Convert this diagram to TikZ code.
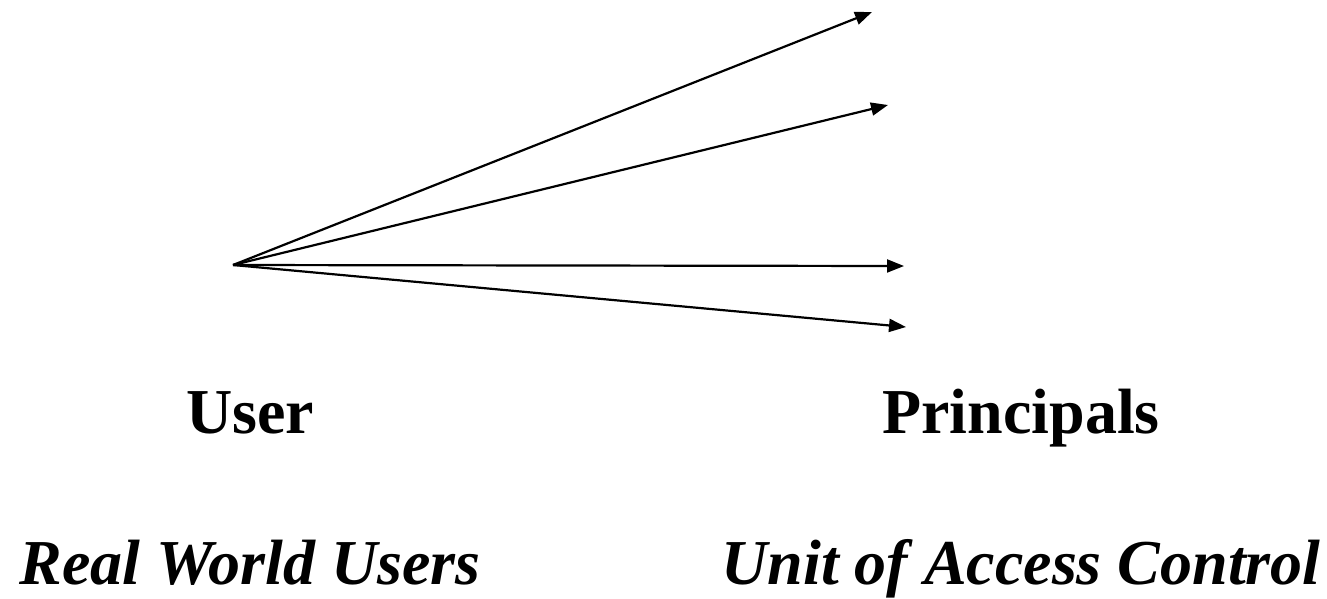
\documentclass[tikz,border=0pt]{standalone}
\usepackage{fontspec}
\setmainfont{Liberation Serif}
\usetikzlibrary{arrows.meta}

\tikzset{
  maparrow/.style={line width=2.2pt,-{Triangle[length=17pt,width=13pt]}},
  bigtext/.style={anchor=base,inner sep=0pt,font=\fontsize{64}{76}\selectfont\bfseries},
  roletext/.style={bigtext,font=\fontsize{64}{76}\selectfont\bfseries\itshape}
}

\begin{document}
\begin{tikzpicture}[x=1pt,y=-1pt]
            \useasboundingbox (0,0) rectangle (1327,598);

            \coordinate (user) at (233,265);
            \coordinate (p1) at (872,12);
            \coordinate (p2) at (888,105);
            \coordinate (p3) at (904,266);
            \coordinate (p4) at (906,327);

            \draw[maparrow] (user) -- (p1);
            \draw[maparrow] (user) -- (p2);
            \draw[maparrow] (user) -- (p3);
            \draw[maparrow] (user) -- (p4);

            \node[bigtext] (userlbl) at (250,433) {User};
            \node[bigtext] (princlbl) at (1021,433) {Principals};

            \node[roletext] (reallbl) at (250,584) {Real World Users};
            \node[roletext] (unitlbl) at (1021,584) {Unit of Access Control};
        \end{tikzpicture}
\end{document}
